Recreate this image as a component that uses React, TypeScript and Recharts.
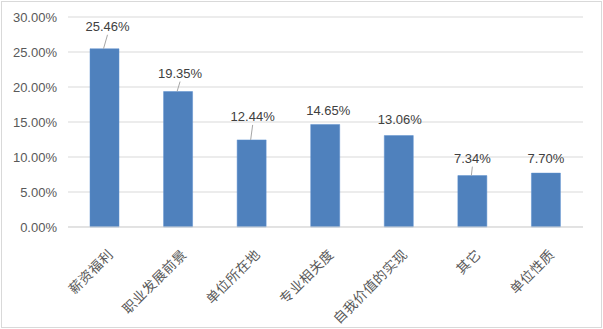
import React from 'react';
import { BarChart, Bar, XAxis, YAxis, CartesianGrid, LabelList } from 'recharts';

const categories = ['薪资福利', '职业发展前景', '单位所在地', '专业相关度', '自我价值的实现', '其它', '单位性质'];
const shares = [25.46, 19.35, 12.44, 14.65, 13.06, 7.34, 7.7];
const yTicks = [0, 5, 10, 15, 20, 25, 30];

// style: how far each data label sits above its bar (px)
const LABEL_LIFT = [22, 18, 23, 14, 16, 17, 15];
const LABEL_SHIFT = [3, 2, 1, 3, 1, 0, 0];

const data = categories.map((name, i) => ({ name, value: shares[i] }));

const fmt = (v: number) => v.toFixed(2) + '%';

const XTick = (props: any) => {
  const { x, y, payload } = props;
  const ax = x + 5;
  const ay = y + 16;
  return (
    <text
      x={ax}
      y={ay}
      transform={`rotate(-45 ${ax} ${ay})`}
      textAnchor="end"
      dominantBaseline="central"
      fontFamily="'Noto Sans CJK SC', sans-serif"
      fontSize={13.5}
      letterSpacing={0.5}
      fill="#595959"
    >
      {payload.value}
    </text>
  );
};

const DataLabel = (props: any) => {
  const { x, y, width, index, value } = props;
  const cx = x + width / 2;
  const lift = LABEL_LIFT[index];
  const tx = cx + LABEL_SHIFT[index];
  const ty = y - lift;
  const showLine = lift >= 17;
  return (
    <g>
      {showLine && (
        <line x1={cx - 1} y1={y} x2={tx} y2={ty + 8} stroke="#a6a6a6" strokeWidth={1} />
      )}
      <text
        x={tx}
        y={ty}
        textAnchor="middle"
        dominantBaseline="central"
        fontFamily="'Liberation Sans', sans-serif"
        fontSize={13}
        fill="#404040"
      >
        {fmt(value)}
      </text>
    </g>
  );
};

export default function App() {
  return (
    <div
      style={{
        position: 'absolute',
        left: 0,
        top: 0,
        width: 603,
        height: 329,
        background: '#fff',
      }}
    >
      <div
        style={{
          position: 'absolute',
          left: 1,
          top: 1,
          width: 599,
          height: 325,
          border: '1px solid #d9d9d9',
        }}
      />
      <div style={{ position: 'absolute', left: 0, top: 0 }}>
        <BarChart
          width={603}
          height={329}
          data={data}
          margin={{ top: 17, right: 20, bottom: 2, left: 0 }}
          barSize={29}
        >
          <CartesianGrid vertical={false} stroke="#d9d9d9" />
          <XAxis
            dataKey="name"
            interval={0}
            height={100}
            axisLine={{ stroke: '#d9d9d9' }}
            tickLine={false}
            tick={<XTick />}
          />
          <YAxis
            width={68}
            domain={[0, 30]}
            ticks={yTicks}
            tickFormatter={fmt}
            axisLine={false}
            tickLine={false}
            tickMargin={5}
            tick={{ fontFamily: "'Liberation Sans', sans-serif", fontSize: 13, fill: '#595959' }}
          />
          <Bar dataKey="value" fill="#4f81bd" stroke="#5b8fcf" strokeWidth={0.5} isAnimationActive={false}>
            <LabelList dataKey="value" content={<DataLabel />} />
          </Bar>
        </BarChart>
      </div>
    </div>
  );
}
